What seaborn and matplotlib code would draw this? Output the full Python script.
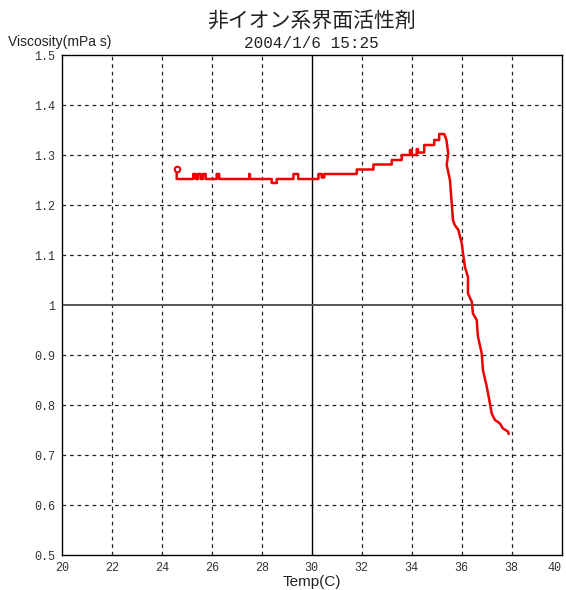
import matplotlib
matplotlib.use("Agg")
import matplotlib.pyplot as plt
import seaborn as sns

# data (step corners written out as points)
temp = [24.60, 24.60, 25.26, 25.26, 25.36, 25.36, 25.45, 25.45, 25.56, 25.56,
        25.65, 25.65, 25.76, 25.76, 26.20, 26.20, 26.30, 26.30, 27.50, 27.50,
        27.53, 27.53, 28.40, 28.40, 28.60, 28.60, 29.27, 29.27, 29.46, 29.46,
        30.27, 30.27, 30.40, 30.40, 30.50, 30.50, 31.80, 31.80, 32.47, 32.47,
        33.20, 33.20, 33.60, 33.60, 33.93, 33.93, 34.00, 34.00, 34.20, 34.20,
        34.25, 34.25, 34.50, 34.50, 34.90, 34.90, 35.10, 35.10, 35.30, 35.39,
        35.46, 35.40, 35.53, 35.60, 35.65, 35.72, 35.87, 35.93, 36.00, 36.05,
        36.13, 36.25, 36.25, 36.40, 36.45, 36.60, 36.65, 36.80, 36.85, 37.00,
        37.13, 37.20, 37.33, 37.53, 37.65, 37.85, 37.88]
visc = [1.272, 1.252, 1.252, 1.262, 1.262, 1.252, 1.252, 1.262, 1.262, 1.252,
        1.252, 1.262, 1.262, 1.252, 1.252, 1.262, 1.262, 1.252, 1.252, 1.262,
        1.262, 1.252, 1.252, 1.244, 1.244, 1.252, 1.252, 1.262, 1.262, 1.252,
        1.252, 1.262, 1.262, 1.255, 1.255, 1.262, 1.262, 1.271, 1.271, 1.281,
        1.281, 1.290, 1.290, 1.300, 1.300, 1.310, 1.310, 1.300, 1.300, 1.312,
        1.312, 1.305, 1.305, 1.320, 1.320, 1.330, 1.330, 1.342, 1.342, 1.330,
        1.303, 1.280, 1.250, 1.204, 1.170, 1.160, 1.150, 1.137, 1.124, 1.104,
        1.076, 1.056, 1.023, 1.007, 0.983, 0.970, 0.937, 0.903, 0.870, 0.837,
        0.803, 0.783, 0.770, 0.763, 0.753, 0.747, 0.742]

x_ticks = list(range(20, 41, 2))
y_ticks = [0.5, 0.6, 0.7, 0.8, 0.9, 1.0, 1.1, 1.2, 1.3, 1.4, 1.5]
y_labels = ["0.5", "0.6", "0.7", "0.8", "0.9", "1", "1.1", "1.2", "1.3", "1.4", "1.5"]

sns.set_style("white")
plt.rcParams['font.family'] = ['Noto Sans CJK JP', 'DejaVu Sans']

fig = plt.figure(figsize=(5.66, 5.90), dpi=100)
ax = fig.add_axes([61.7 / 566, 1 - 555 / 590, 500 / 566, 500 / 590])

# grid: dashed, with solid centre lines
for xv in x_ticks[1:-1]:
    if xv == 30:
        ax.axvline(xv, color="black", lw=1.0, zorder=1)
    else:
        ax.axvline(xv, color="#222222", lw=0.9, ls=(0, (3, 3)), zorder=1)
for yv in y_ticks[1:-1]:
    if abs(yv - 1.0) < 1e-9:
        ax.axhline(yv, color="#555555", lw=1.4, zorder=1)
    else:
        ax.axhline(yv, color="#222222", lw=0.9, ls=(0, (3, 3)), zorder=1)

sns.lineplot(x=temp, y=visc, sort=False, estimator=None, ax=ax,
             color="#ee0000", lw=1.8, zorder=3)
ax.plot(temp[:1], visc[:1], marker="o", ms=4, mfc="white", mec="#ee0000",
        mew=1.5, color="#ee0000", zorder=4)

ax.set_xlim(20, 40)
ax.set_ylim(0.5, 1.5)
ax.set_xticks(x_ticks)
ax.set_yticks(y_ticks)
mono = "Liberation Mono"
ax.set_xticklabels([str(v) for v in x_ticks], family=mono, fontsize=8.5, color="#333333")
ax.set_yticklabels(y_labels, family=mono, fontsize=8.5, color="#333333")
ax.tick_params(length=0, pad=5)
ax.get_xticklabels()[-1].set_ha("right")
for s in ax.spines.values():
    s.set_color("black")
    s.set_linewidth(1.0)

fig.text(311.7 / 566, 1 - 21 / 590, "非イオン系界面活性剤", ha="center", va="center",
         fontsize=15, color="#222222")
fig.text(311.7 / 566, 1 - 44 / 590, "2004/1/6 15:25", ha="center", va="center",
         family=mono, fontsize=11.5, color="#222222")
fig.text(8 / 566, 1 - 42 / 590, "Viscosity(mPa s)", ha="left", va="center",
         family="Liberation Sans", fontsize=10, color="#222222")
fig.text(311.7 / 566, 1 - 582 / 590, "Temp(C)", ha="center", va="center",
         family="Liberation Sans", fontsize=11, color="#222222")

fig.savefig("out.png", dpi=100)
